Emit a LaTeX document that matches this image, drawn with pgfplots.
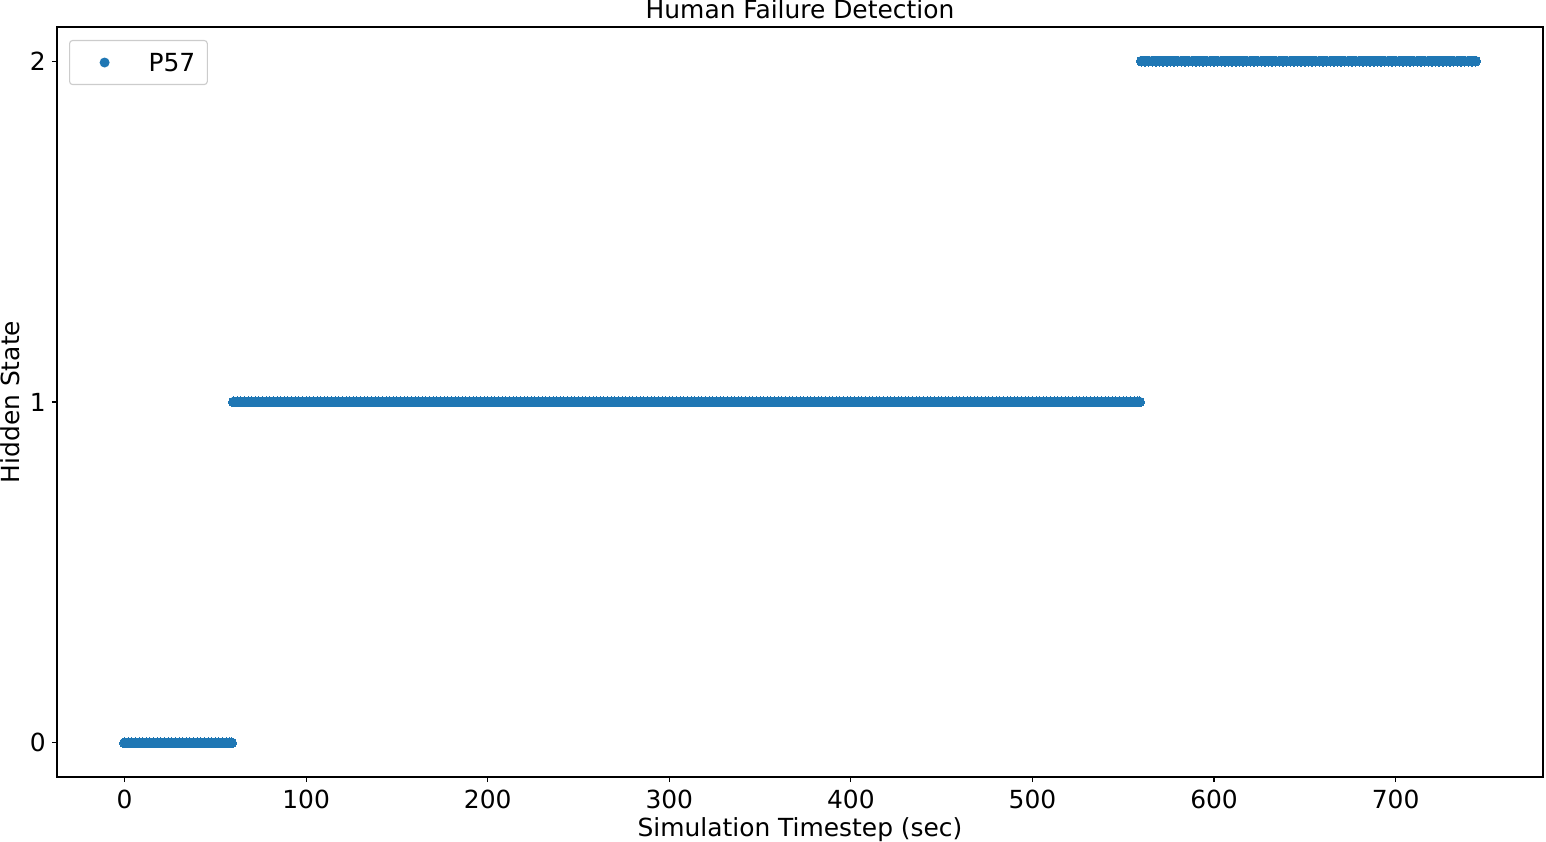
\documentclass[border=0pt]{standalone}
\usepackage{fontspec}
\setmainfont{DejaVu Sans}
\usepackage{pgfplots}
\pgfplotsset{compat=1.18}
\definecolor{mplblue}{HTML}{1F77B4}
\begin{document}
\fontsize{18}{21.6}\selectfont
\begin{tikzpicture}
\begin{axis}[
  at={(0,0)}, anchor=south west,
  scale only axis, width=14.86in, height=7.5in,
  xmin=-37.2, xmax=781.2, ymin=-0.1, ymax=2.1,
  xtick={0,100,200,300,400,500,600,700},
  ytick={0,1,2},
  axis line style={line width=0.8pt},
  major tick style={line width=0.8pt, black},
  tick align=outside, major tick length=0.05in,
  xtick pos=bottom, ytick pos=left,
  /pgf/number format/assume math mode=true,
  tick label style={font=\fontsize{18}{21.6}\selectfont},
  xticklabel style={inner sep=0pt, anchor=north, yshift=-0.08in},
  yticklabel style={inner sep=0pt, anchor=east, xshift=-0.06in},
  title={Human Failure Detection},
  every axis title/.style={at={(axis description cs:0.5,1)}, anchor=base, yshift=0.08in, inner sep=0pt, font=\fontsize{18}{21.6}\selectfont},
  xlabel={Simulation Timestep (sec)},
  ylabel={Hidden State},
  every axis x label/.style={at={(axis description cs:0.5,0)}, anchor=center, yshift=-0.53in, font=\fontsize{18}{21.6}\selectfont},
  every axis y label/.style={at={(axis description cs:-0.0316,0.5)}, anchor=center, rotate=90, font=\fontsize{18}{21.6}\selectfont},
  legend style={at={(axis description cs:0.0081,0.9827)}, anchor=north west,
    draw=black!20, line width=0.8pt, rounded corners=0.03in, inner xsep=0.12in, inner ysep=0pt,
    fill=white,
    nodes={inner sep=0pt, text depth=0pt}, font=\fontsize{18}{21.6}\selectfont},
]
\addplot[only marks, mark=*, mark size=0.05in, mark options={fill=mplblue, draw=mplblue, line width=0pt},
  legend image code/.code={\path[draw=none,fill=none] (0,-0.22in) rectangle (0.67in,0.22in); \fill[mplblue,draw=none] (0.23in,0) circle (0.05in);}]
coordinates {
(0,0)(2,0)(4,0)(6,0)(8,0)(10,0)(12,0)(14,0)(16,0)(18,0)
(20,0)(22,0)(24,0)(26,0)(28,0)(30,0)(32,0)(34,0)(36,0)(38,0)
(40,0)(42,0)(44,0)(46,0)(48,0)(50,0)(52,0)(54,0)(56,0)(58,0)(59,0)
(60,1)(62,1)(64,1)(66,1)(68,1)(70,1)(72,1)(74,1)(76,1)(78,1)
(80,1)(82,1)(84,1)(86,1)(88,1)(90,1)(92,1)(94,1)(96,1)(98,1)
(100,1)(102,1)(104,1)(106,1)(108,1)(110,1)(112,1)(114,1)(116,1)(118,1)
(120,1)(122,1)(124,1)(126,1)(128,1)(130,1)(132,1)(134,1)(136,1)(138,1)
(140,1)(142,1)(144,1)(146,1)(148,1)(150,1)(152,1)(154,1)(156,1)(158,1)
(160,1)(162,1)(164,1)(166,1)(168,1)(170,1)(172,1)(174,1)(176,1)(178,1)
(180,1)(182,1)(184,1)(186,1)(188,1)(190,1)(192,1)(194,1)(196,1)(198,1)
(200,1)(202,1)(204,1)(206,1)(208,1)(210,1)(212,1)(214,1)(216,1)(218,1)
(220,1)(222,1)(224,1)(226,1)(228,1)(230,1)(232,1)(234,1)(236,1)(238,1)
(240,1)(242,1)(244,1)(246,1)(248,1)(250,1)(252,1)(254,1)(256,1)(258,1)
(260,1)(262,1)(264,1)(266,1)(268,1)(270,1)(272,1)(274,1)(276,1)(278,1)
(280,1)(282,1)(284,1)(286,1)(288,1)(290,1)(292,1)(294,1)(296,1)(298,1)
(300,1)(302,1)(304,1)(306,1)(308,1)(310,1)(312,1)(314,1)(316,1)(318,1)
(320,1)(322,1)(324,1)(326,1)(328,1)(330,1)(332,1)(334,1)(336,1)(338,1)
(340,1)(342,1)(344,1)(346,1)(348,1)(350,1)(352,1)(354,1)(356,1)(358,1)
(360,1)(362,1)(364,1)(366,1)(368,1)(370,1)(372,1)(374,1)(376,1)(378,1)
(380,1)(382,1)(384,1)(386,1)(388,1)(390,1)(392,1)(394,1)(396,1)(398,1)
(400,1)(402,1)(404,1)(406,1)(408,1)(410,1)(412,1)(414,1)(416,1)(418,1)
(420,1)(422,1)(424,1)(426,1)(428,1)(430,1)(432,1)(434,1)(436,1)(438,1)
(440,1)(442,1)(444,1)(446,1)(448,1)(450,1)(452,1)(454,1)(456,1)(458,1)
(460,1)(462,1)(464,1)(466,1)(468,1)(470,1)(472,1)(474,1)(476,1)(478,1)
(480,1)(482,1)(484,1)(486,1)(488,1)(490,1)(492,1)(494,1)(496,1)(498,1)
(500,1)(502,1)(504,1)(506,1)(508,1)(510,1)(512,1)(514,1)(516,1)(518,1)
(520,1)(522,1)(524,1)(526,1)(528,1)(530,1)(532,1)(534,1)(536,1)(538,1)
(540,1)(542,1)(544,1)(546,1)(548,1)(550,1)(552,1)(554,1)(556,1)(558,1)(559,1)
(560,2)(562,2)(564,2)(566,2)(568,2)(570,2)(572,2)(574,2)(576,2)(578,2)
(580,2)(582,2)(584,2)(586,2)(588,2)(590,2)(592,2)(594,2)(596,2)(598,2)
(600,2)(602,2)(604,2)(606,2)(608,2)(610,2)(612,2)(614,2)(616,2)(618,2)
(620,2)(622,2)(624,2)(626,2)(628,2)(630,2)(632,2)(634,2)(636,2)(638,2)
(640,2)(642,2)(644,2)(646,2)(648,2)(650,2)(652,2)(654,2)(656,2)(658,2)
(660,2)(662,2)(664,2)(666,2)(668,2)(670,2)(672,2)(674,2)(676,2)(678,2)
(680,2)(682,2)(684,2)(686,2)(688,2)(690,2)(692,2)(694,2)(696,2)(698,2)
(700,2)(702,2)(704,2)(706,2)(708,2)(710,2)(712,2)(714,2)(716,2)(718,2)
(720,2)(722,2)(724,2)(726,2)(728,2)(730,2)(732,2)(734,2)(736,2)(738,2)
(740,2)(742,2)(744,2)
};
\addlegendentry{P57}
\end{axis}
\pgfresetboundingbox
\useasboundingbox (-0.57in,-0.64in) rectangle (14.89in,7.77in);
\end{tikzpicture}
\end{document}
